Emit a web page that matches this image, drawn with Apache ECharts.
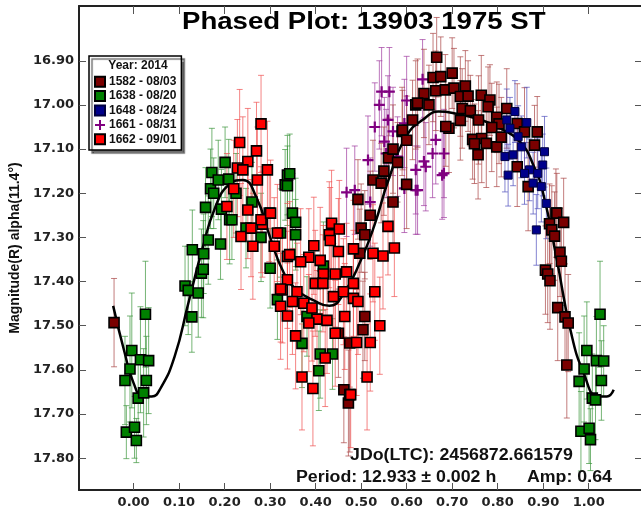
<!DOCTYPE html>
<html><head><meta charset="utf-8">
<script src="https://cdn.jsdelivr.net/npm/echarts@6/dist/echarts.min.js"></script>
<style>html,body{margin:0;padding:0;background:#fff}#c{width:641px;height:517px}</style>
</head><body><div id="c"></div>
<script>
// ---- data: [phase, magnitude, error] ----
const xTicks = [0.0,0.1,0.2,0.3,0.4,0.5,0.6,0.7,0.8,0.9,1.0];
const yTicks = [16.9,17.0,17.1,17.2,17.3,17.4,17.5,17.6,17.7,17.8];
const seriesNames = ['1582 - 08/03','1638 - 08/20','1648 - 08/24','1661 - 08/31','1662 - 09/01'];

const s1582 = [
 [-0.043,17.493,0.10],
 [0.450,17.517,0.10],[0.462,17.645,0.12],[0.472,17.675,0.12],[0.475,17.656,0.13],[0.475,17.539,0.10],
 [0.493,17.214,0.09],[0.497,17.336,0.10],[0.500,17.279,0.10],[0.504,17.509,0.11],[0.508,17.294,0.10],
 [0.508,17.479,0.10],[0.526,17.170,0.09],[0.544,17.177,0.09],[0.520,17.250,0.10],[0.550,17.150,0.10],
 [0.560,17.120,0.09],[0.570,17.100,0.10],[0.580,17.130,0.09],[0.590,17.060,0.10],[0.591,17.057,0.09],
 [0.600,17.080,0.10],[0.613,17.034,0.09],[0.620,17.000,0.10],[0.600,17.180,0.10],[0.570,17.220,0.10],
 [0.666,16.892,0.09],[0.658,16.938,0.10],[0.675,16.936,0.09],[0.700,16.928,0.08],[0.638,16.974,0.10],
 [0.664,16.968,0.09],[0.685,16.966,0.08],[0.704,16.962,0.09],[0.729,16.957,0.08],[0.718,16.981,0.09],
 [0.735,16.980,0.08],[0.624,16.996,0.10],[0.649,17.000,0.09],[0.722,17.008,0.09],[0.740,17.013,0.08],
 [0.764,16.978,0.09],[0.783,16.989,0.08],[0.779,17.004,0.09],[0.718,17.035,0.09],[0.758,17.034,0.10],
 [0.820,17.008,0.09],[0.798,17.028,0.08],[0.693,17.053,0.10],[0.686,17.049,0.09],[0.803,17.043,0.09],
 [0.787,17.051,0.10],[0.745,17.078,0.09],[0.765,17.076,0.10],[0.749,17.088,0.09],[0.775,17.087,0.10],
 [0.798,17.095,0.09],[0.808,17.073,0.09],[0.757,17.113,0.10],[0.843,17.042,0.09],[0.859,17.061,0.10],
 [0.887,17.061,0.08],[0.881,17.091,0.09],[0.843,17.140,0.09],[0.867,17.185,0.10],[0.928,17.245,0.10],
 [0.930,17.245,0.09],[0.945,17.266,0.10],[0.914,17.269,0.09],[0.919,17.283,0.10],[0.925,17.297,0.10],
 [0.937,17.334,0.10],[0.940,17.354,0.10],[0.905,17.374,0.10],[0.910,17.383,0.11],[0.915,17.398,0.11],
 [0.932,17.459,0.12],[0.948,17.480,0.12],[0.955,17.494,0.11],[0.952,17.589,0.12]
];
const s1638 = [
 [-0.019,17.624,0.10],[-0.016,17.741,0.06],[-0.008,17.598,0.12],[-0.004,17.556,0.13],[0.002,17.730,0.07],
 [0.006,17.760,0.05],[0.010,17.664,0.09],[0.015,17.577,0.12],[0.022,17.652,0.10],[0.026,17.474,0.12],
 [0.028,17.624,0.10],[0.033,17.579,0.12],[0.113,17.410,0.09],[0.120,17.420,0.10],[0.129,17.328,0.09],
 [0.128,17.480,0.08],[0.142,17.426,0.10],[0.149,17.381,0.10],[0.153,17.372,0.11],[0.154,17.337,0.09],
 [0.158,17.232,0.09],[0.164,17.306,0.10],[0.169,17.190,0.09],[0.172,17.153,0.10],[0.176,17.200,0.08],
 [0.186,17.170,0.09],[0.191,17.315,0.08],[0.193,17.236,0.09],[0.201,17.130,0.08],[0.209,17.168,0.09],
 [0.211,17.260,0.10],[0.216,17.260,0.09],[0.225,17.200,0.09],[0.247,17.279,0.09],[0.260,17.220,0.09],
 [0.280,17.300,0.10],[0.300,17.370,0.09],[0.323,17.290,0.10],[0.316,17.441,0.09],[0.333,17.181,0.08],
 [0.338,17.159,0.09],[0.338,17.183,0.09],[0.343,17.156,0.09],[0.349,17.245,0.09],[0.356,17.266,0.10],
 [0.356,17.294,0.08],[0.370,17.540,0.10],[0.381,17.479,0.09],[0.407,17.602,0.09],[0.410,17.564,0.10],
 [0.417,17.365,0.10],[0.437,17.564,0.08],
 [0.979,17.626,0.11],[0.983,17.739,0.09],[0.990,17.598,0.12],[0.996,17.556,0.11],[1.001,17.732,0.08],
 [1.004,17.758,0.07],[1.008,17.664,0.10],[1.015,17.668,0.09],[1.017,17.579,0.10],[1.025,17.474,0.12],
 [1.028,17.624,0.09],[1.033,17.580,0.08]
];
const s1648 = [
 [0.838,17.015,0.07],[0.820,17.034,0.07],[0.864,17.040,0.08],[0.827,17.053,0.07],[0.845,17.072,0.07],
 [0.816,17.117,0.08],[0.834,17.113,0.07],[0.852,17.095,0.07],[0.903,17.106,0.08],[0.899,17.136,0.07],
 [0.823,17.159,0.07],[0.870,17.147,0.07],[0.888,17.155,0.08],[0.878,17.177,0.07],[0.896,17.185,0.08],
 [0.907,17.223,0.08],[0.885,17.283,0.08],[0.859,17.155,0.07]
];
const s1661 = [
 [0.468,17.198,0.10],[0.486,17.193,0.10],[0.551,17.083,0.10],[0.555,17.110,0.10],[0.559,17.034,0.10],
 [0.562,16.970,0.10],[0.580,17.117,0.09],[0.595,17.042,0.10],[0.595,17.189,0.10],[0.620,17.147,0.10],
 [0.620,17.193,0.10],[0.624,17.193,0.10],[0.635,16.942,0.09],[0.638,17.128,0.10],[0.642,17.140,0.10],
 [0.657,17.110,0.10],[0.664,17.079,0.10],[0.678,17.159,0.10],[0.682,17.110,0.10],[0.682,17.155,0.10],
 [0.530,17.050,0.10],[0.540,17.000,0.10],[0.570,17.060,0.10],[0.600,16.990,0.10],[0.515,17.125,0.10],
 [0.520,17.220,0.10],[0.545,16.970,0.10]
];
const s1662 = [
 [0.280,17.043,0.11],[0.233,17.085,0.12],[0.270,17.104,0.11],[0.251,17.128,0.12],[0.228,17.143,0.11],
 [0.240,17.147,0.12],[0.294,17.147,0.11],[0.272,17.170,0.12],[0.236,17.298,0.12],[0.298,17.245,0.11],
 [0.309,17.320,0.11],[0.283,17.270,0.12],[0.251,17.238,0.11],[0.280,17.260,0.12],[0.258,17.279,0.11],
 [0.301,17.245,0.12],[0.316,17.290,0.11],[0.338,17.343,0.12],[0.338,17.396,0.11],[0.327,17.419,0.12],
 [0.435,17.268,0.12],[0.452,17.281,0.11],[0.430,17.294,0.12],[0.432,17.307,0.12],[0.396,17.319,0.11],
 [0.450,17.332,0.12],[0.483,17.326,0.11],[0.343,17.339,0.12],[0.385,17.345,0.11],[0.410,17.352,0.12],
 [0.367,17.355,0.12],[0.417,17.383,0.11],[0.443,17.383,0.12],[0.468,17.378,0.11],[0.399,17.404,0.12],
 [0.416,17.404,0.11],[0.483,17.404,0.12],[0.323,17.417,0.12],[0.359,17.423,0.11],[0.461,17.423,0.12],
 [0.439,17.434,0.12],[0.483,17.438,0.11],[0.493,17.445,0.12],[0.530,17.423,0.11],[0.323,17.456,0.12],
 [0.349,17.445,0.12],[0.374,17.449,0.11],[0.392,17.460,0.12],[0.338,17.478,0.12],[0.403,17.485,0.11],
 [0.425,17.488,0.12],[0.464,17.479,0.12],[0.541,17.500,0.11],[0.356,17.523,0.12],[0.385,17.494,0.11],
 [0.443,17.517,0.12],[0.421,17.573,0.11],[0.490,17.538,0.12],[0.520,17.538,0.11],[0.370,17.616,0.12],
 [0.513,17.616,0.12],[0.394,17.642,0.13],[0.477,17.656,0.12],[0.559,17.275,0.11],[0.573,17.324,0.11],
 [0.548,17.342,0.12],[0.526,17.336,0.11],[0.205,17.230,0.12],[0.220,17.190,0.11],[0.262,17.320,0.12]
];
const fitCurve = [
 [-0.045,17.455],[-0.02,17.56],[0.00,17.63],[0.02,17.66],[0.04,17.66],[0.06,17.64],[0.09,17.57],
 [0.12,17.45],[0.15,17.33],[0.18,17.23],[0.21,17.18],[0.24,17.17],[0.27,17.21],[0.30,17.30],
 [0.33,17.38],[0.36,17.42],[0.40,17.445],[0.43,17.455],[0.46,17.43],[0.50,17.35],[0.53,17.27],
 [0.56,17.17],[0.60,17.07],[0.64,17.03],[0.67,17.015],[0.71,17.02],[0.76,17.033],[0.80,17.05],
 [0.85,17.085],[0.88,17.14],[0.90,17.20],[0.93,17.35],[0.96,17.51],[0.99,17.61],[1.02,17.66],
 [1.04,17.66],[1.055,17.645]
];

const FONT = '"Liberation Sans", Arial, sans-serif';
const TICKFONT = '"DejaVu Sans", "Liberation Sans", sans-serif';
const fill = {'1582 - 08/03':'#7a0000','1638 - 08/20':'#008000','1648 - 08/24':'#00008b','1661 - 08/31':'#800080','1662 - 09/01':'#ff0000'};
const barCol = {'1582 - 08/03':'rgba(170,70,70,0.7)','1638 - 08/20':'rgba(60,150,60,0.7)','1648 - 08/24':'rgba(80,80,190,0.7)','1661 - 08/31':'rgba(160,60,160,0.7)','1662 - 09/01':'rgba(240,80,80,0.7)'};
const dataMap = {'1582 - 08/03':s1582,'1638 - 08/20':s1638,'1648 - 08/24':s1648,'1661 - 08/31':s1661,'1662 - 09/01':s1662};
const plusPath = 'path://M4,0h2v4h4v2h-4v4h-2v-4h-4v-2h4z';

function errSeries(name){
  const col = barCol[name];
  return {type:'custom', name: name+' err', data: dataMap[name], z:1, clip:true, silent:true,
    encode:{x:0,y:1},
    renderItem(params, api){
      const x=api.value(0), y=api.value(1), e=api.value(2);
      const a=api.coord([x,y-e]), b=api.coord([x,y+e]);
      const hw=3, st={stroke:col,lineWidth:1};
      return {type:'group',children:[
        {type:'line',shape:{x1:a[0],y1:a[1],x2:b[0],y2:b[1]},style:st},
        {type:'line',shape:{x1:a[0]-hw,y1:a[1],x2:a[0]+hw,y2:a[1]},style:st},
        {type:'line',shape:{x1:b[0]-hw,y1:b[1],x2:b[0]+hw,y2:b[1]},style:st}
      ]};
    }};
}
function ptSeries(name){
  const isPlus = name==='1661 - 08/31', isBlue = name==='1648 - 08/24';
  return {type:'scatter', name, data: dataMap[name].map(d=>[d[0],d[1]]), z:3,
    symbol: isPlus?plusPath:'rect', symbolSize: isPlus?11:(isBlue?8:10),
    itemStyle:{color:fill[name], borderColor: isPlus?fill[name]:(isBlue?'#000040':'#000'), borderWidth: isPlus?0:(isBlue?1:1.6), opacity:1}};
}

const order = ['1661 - 08/31','1638 - 08/20','1582 - 08/03','1648 - 08/24','1662 - 09/01'];
const series = [];
order.forEach(n=>series.push(errSeries(n)));
order.forEach(n=>series.push(ptSeries(n)));
series.push({type:'line', name:'fit', data: fitCurve, smooth:0.5, symbol:'none', z:2,
  lineStyle:{color:'#000',width:2.5}, silent:true});

const axisLineStyle = {show:true, onZero:false, lineStyle:{color:'#222', width:2}};
const chart = echarts.init(document.getElementById('c'));
chart.setOption({
  animation:false,
  backgroundColor:'#fff',
  grid:{left:73, top:6, width:568, height:484, containLabel:false},
  xAxis:[
    {type:'value', min:-0.12, max:1.115, position:'bottom',
     axisLine:axisLineStyle, splitLine:{show:false},
     axisTick:{inside:true, length:7, lineStyle:{color:'#555',width:1}, customValues:xTicks},
     axisLabel:{customValues:xTicks, formatter:v=>v.toFixed(2), color:'#222', fontWeight:'bold', fontSize:13, fontFamily:TICKFONT, margin:6}},
    {type:'value', min:-0.12, max:1.115, position:'top',
     axisLine:axisLineStyle, splitLine:{show:false},
     axisTick:{inside:true, length:8, lineStyle:{color:'#555',width:1}, customValues:xTicks},
     axisLabel:{show:false}}
  ],
  yAxis:[
    {type:'value', inverse:true, min:16.776, max:17.872, position:'left',
     axisLine:axisLineStyle, splitLine:{show:false},
     axisTick:{inside:true, length:7, lineStyle:{color:'#555',width:1}, customValues:yTicks},
     axisLabel:{customValues:yTicks, formatter:v=>v.toFixed(2), color:'#222', fontWeight:'bold', fontSize:13, fontFamily:TICKFONT, margin:5},
     name:'Magnitude(R) alpha(11.4°)', nameLocation:'middle', nameGap:56, nameRotate:90,
     nameTextStyle:{color:'#111', fontWeight:'bold', fontSize:14, fontFamily:FONT}},
    {type:'value', inverse:true, min:16.776, max:17.872, position:'right',
     axisLine:{show:false, onZero:false}, splitLine:{show:false},
     axisTick:{inside:true, length:6, lineStyle:{color:'#555',width:1}, customValues:yTicks},
     axisLabel:{show:false}}
  ],
  legend:{orient:'vertical', left:89, top:56, padding:[19,5,4,5], itemGap:1, itemWidth:10, itemHeight:10,
    backgroundColor:'#fff', borderColor:'#000', borderWidth:1.5, borderRadius:0,
    shadowColor:'rgba(0,0,0,0.55)', shadowOffsetX:3, shadowOffsetY:3, shadowBlur:1,
    textStyle:{fontWeight:'bold', fontSize:12, lineHeight:13.4, fontFamily:FONT, color:'#111', padding:[0,0,0,-1]},
    data: seriesNames, selectedMode:false},
  graphic:[
    {type:'text', x:182, y:10, z:100, scaleX:1.15,
     style:{text:'Phased Plot: 13903 1975 ST', font:'bold 24px '+FONT, fill:'#000'}},
    {type:'text', x:138, y:66, z:100,
     style:{text:'Year: 2014', font:'bold 12px '+FONT, fill:'#111', textAlign:'center', textVerticalAlign:'middle'}},
    {type:'text', x:350, y:456, z:100, scaleX:1.11,
     style:{text:'JDo(LTC): 2456872.661579', font:'bold 16px '+FONT, fill:'#111', textVerticalAlign:'middle'}},
    {type:'text', x:296, y:478, z:100, scaleX:1.11,
     style:{text:'Period: 12.933 ± 0.002 h', font:'bold 16px '+FONT, fill:'#111', textVerticalAlign:'middle'}},
    {type:'text', x:527, y:478, z:100, scaleX:1.11,
     style:{text:'Amp: 0.64', font:'bold 16px '+FONT, fill:'#111', textVerticalAlign:'middle'}}
  ],
  series
});
</script></body></html>
